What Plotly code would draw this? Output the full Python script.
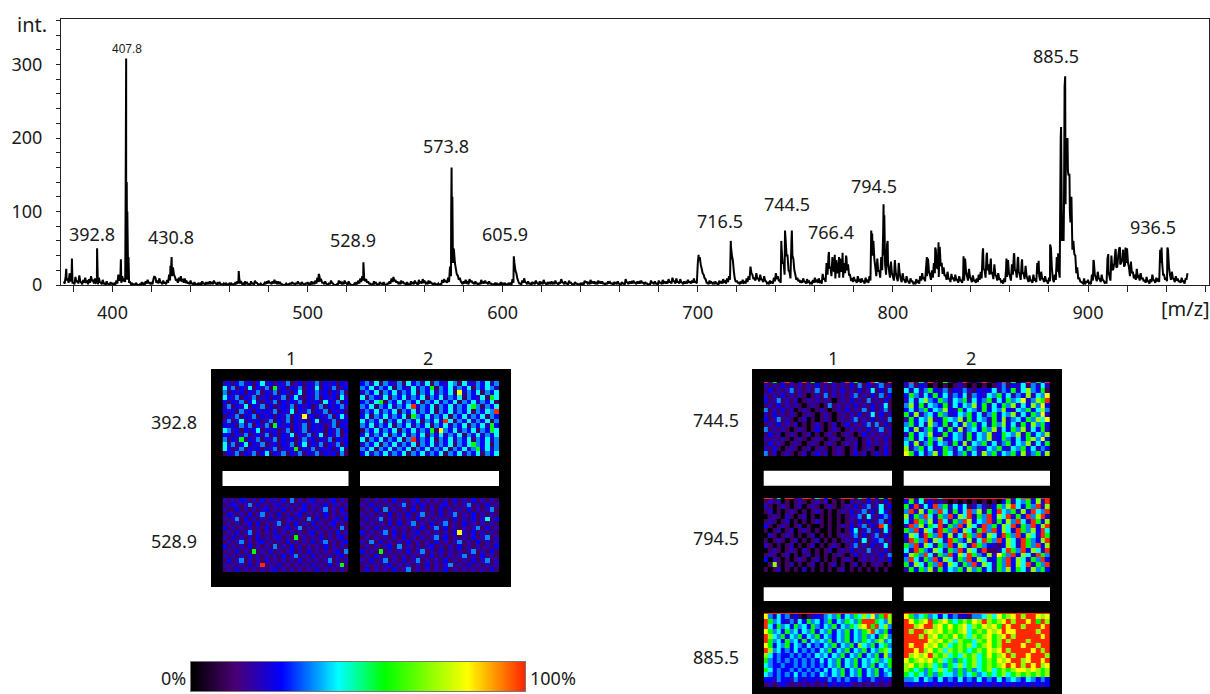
import numpy as np
import plotly.graph_objects as go

W, H = 1210, 694
TEXT_FONT = "Noto Sans"

# ---------- spectrum: intensity read at each whole m/z, starting at 375 ----------
mz_start = 375
base_intensity = [
    5,12,9,16,8,4,11,6,13,3,7,10,5,8,12,6,9,4,10,3,7,2,5,1,4,
    3,2,6,14,8,12,9,16,11,4,2,1,3,0,1,4,2,5,7,3,4,8,10,6,9,
    3,6,4,7,14,22,24,11,8,10,12,7,9,5,4,6,2,4,1,3,2,5,2,4,3,
    5,3,6,2,4,3,1,2,3,1,3,2,1,4,5,8,4,2,5,3,1,5,2,6,3,
    1,2,0,3,5,6,3,5,7,4,5,3,1,0,2,1,3,4,2,3,5,2,4,1,3,
    4,2,5,3,6,10,13,7,3,5,1,3,6,2,0,1,6,4,3,6,2,5,1,0,2,
    4,6,9,12,10,8,5,2,1,5,3,1,4,2,4,0,3,5,9,11,7,5,3,6,4,
    2,4,1,5,3,6,2,7,4,8,5,3,6,4,2,3,1,2,1,7,8,6,10,25,60,
    48,22,13,10,3,5,7,4,8,6,3,5,2,3,7,4,6,3,5,2,1,3,2,1,4,
    2,3,1,3,2,8,30,16,5,2,6,9,3,5,2,4,3,6,2,5,3,7,2,4,3,
    5,3,6,2,4,8,3,5,2,6,3,1,4,2,1,3,2,6,5,3,7,4,5,3,6,
    4,5,2,3,5,4,2,4,3,5,1,4,2,8,3,5,4,6,3,5,4,6,3,4,2,
    1,6,3,5,2,6,3,7,4,5,8,4,10,5,9,4,8,3,5,4,7,5,6,9,4,
    30,38,22,14,8,3,6,4,3,5,2,6,4,8,5,9,12,52,33,8,6,3,5,7,4,
    9,12,25,14,10,16,9,14,7,12,5,3,6,4,10,16,12,6,48,30,62,40,18,60,35,
    14,10,7,6,9,4,8,5,3,7,10,6,9,5,15,8,30,40,25,38,18,34,20,36,22,
    30,40,28,14,8,11,6,12,7,9,5,10,6,12,65,60,24,36,20,38,70,28,55,20,32,
    12,34,10,30,8,16,6,12,4,9,5,3,8,5,12,16,10,24,36,14,20,30,48,22,52,
    30,24,14,18,8,15,10,14,7,12,6,13,36,12,22,8,13,6,9,14,18,44,20,40,28,
    30,16,28,12,16,8,5,9,22,34,12,28,42,20,36,14,30,16,26,8,13,6,14,8,30,
    12,18,8,12,5,10,50,8,14,38,20,200,90,270,180,150,85,48,42,16,8,5,3,9,4,
    7,3,14,32,10,18,8,14,6,4,36,12,40,22,46,25,50,30,48,28,50,24,32,18,14,
    22,12,16,10,7,11,5,8,14,6,10,9,48,30,14,10,48,14,18,8,12,9,6,10,5,
    8,16,
]
# readings between the whole m/z values (at m/z + 0.5), starting at 375.5
half_intensity = [
    2,6,3,5,2,1,4,2,5,1,3,4,1,3,6,2,3,1,4,1,2,0,2,0,1,
    0,1,2,6,3,5,4,7,4,1,0,0,1,0,0,1,0,2,3,1,1,12,3,2,4,
    1,2,1,3,6,12,14,6,3,5,6,3,4,2,1,2,0,1,0,1,0,2,0,1,1,
    2,1,3,0,1,1,0,0,1,0,1,0,0,1,2,3,1,0,2,1,0,2,0,3,1,
    0,0,1,1,2,3,1,2,3,1,2,1,0,0,0,0,1,2,0,1,2,0,2,0,1,
    1,0,2,1,2,4,6,3,1,2,0,1,3,0,0,0,3,1,1,3,0,2,0,0,0,
    1,2,4,6,5,3,2,0,0,2,1,0,2,0,1,0,1,2,4,5,3,2,1,3,2,
    0,1,0,2,1,3,0,3,2,4,2,1,3,2,0,1,0,0,0,3,4,3,4,12,30,
    30,14,7,5,1,2,3,1,4,3,1,2,0,1,3,2,3,1,2,0,0,1,0,0,1,
    0,1,0,1,0,3,20,9,2,0,3,4,1,2,0,2,1,3,0,2,1,3,0,2,1,
    2,1,3,0,2,4,1,2,0,3,1,0,2,0,0,1,0,3,2,1,3,2,2,1,3,
    2,2,0,1,2,2,0,2,1,2,0,2,0,4,1,2,2,3,1,2,2,3,1,2,0,
    0,3,1,2,0,3,1,3,2,2,4,2,5,2,4,2,4,1,2,2,3,2,3,4,2,
    34,28,16,9,3,1,3,2,1,2,0,3,2,4,2,4,7,40,18,4,3,1,2,3,2,
    4,7,16,8,6,9,5,8,4,6,2,1,3,2,5,8,6,3,30,14,40,20,9,40,20,
    7,5,3,3,5,2,4,2,1,3,5,3,4,2,8,4,14,22,12,20,9,16,10,18,10,
    16,20,14,7,4,6,3,6,3,5,2,5,3,6,40,35,12,18,10,20,40,14,30,10,16,
    6,16,5,15,4,8,3,6,2,5,2,1,4,2,6,8,5,12,18,7,10,16,24,11,26,
    15,12,7,9,4,8,5,7,3,6,3,6,18,6,11,4,6,3,4,7,9,22,10,20,14,
    15,8,14,6,8,4,2,4,11,16,6,14,20,10,18,7,15,8,13,4,6,3,7,4,15,
    6,9,4,6,2,5,22,4,7,18,10,120,60,110,200,150,120,60,40,24,10,4,2,1,4,
    2,1,6,14,5,9,4,7,3,2,18,6,20,30,24,40,28,35,25,30,30,12,16,9,7,
    11,6,8,5,3,5,2,4,7,3,5,4,30,14,7,5,24,7,9,4,6,4,3,5,2,
    8,
]
peak_mz = [376.3, 379.2, 392.1, 404.3, 406.7, 407.0, 407.3, 407.6, 408.2, 429.7, 430.3,
           464.7, 505.7, 528.6, 573.6, 573.8, 574.2, 574.7, 605.7, 700.4, 716.9,
           742.8, 744.7, 748.2, 767.2, 770.2, 772.4, 774.2, 776.2, 788.9, 789.4,
           795.2, 795.6, 797.3, 817.4, 821.7, 823.4, 836.2, 846.2, 848.2, 850.2,
           858.2, 862.2, 864.2, 866.2, 874.7, 880.6, 884.7, 886.2, 886.7, 887.7,
           888.3, 888.7, 889.7, 890.7, 902.8, 910.4, 914.2, 916.4, 919.2, 937.7, 940.7]
peak_intensity = [22, 36, 50, 35, 100, 308, 140, 100, 38, 26, 38,
                  19, 15, 31, 100, 160, 120, 50, 39, 41, 60,
                  60, 74, 74, 45, 41, 38, 44, 37, 74, 70,
                  110, 95, 60, 38, 51, 58, 39, 50, 44, 36,
                  36, 43, 38, 35, 33, 55, 43, 215, 60, 110,
                  284, 200, 155, 100, 34, 42, 49, 51, 51, 51, 51]

peak_labels = ["392.8", "407.8", "430.8", "528.9", "573.8", "605.9", "716.5",
               "744.5", "766.4", "794.5", "885.5", "936.5"]

# ---------- intensity images: estimated levels, rows top to bottom ----------
# 1 purple, 2 indigo, 3 blue, 4 azure, 5 cyan, 6 green, 7 lime, 8 yellow, 9 red
level_percent = [0, 11, 20, 27, 36, 44, 58, 72, 83, 100]
img_392_1 = ["231342313523132412313241323132","524132513241623132413251324123","413231324132413213513242313241",
             "532413241231324135213241323152","313241352132413232413231532413","241325132413123241323124132342",
             "323142313232413251324132413231","132413241323132413282313241352","241351323124132413231351324123",
             "323142413241632313241323124132","542313235132312413241323132413","331324123241313251324135132412",
             "413261324132413231242313241323","524135132412313241351324132413","531241323132412326132413231351",
             "132413241351324132413241323141"]
img_392_2 = ["342514324153425143254153243524","435243514325243614352435143542","243514352435143524351824351435",
             "514325143524351435243514325165","342561435243514352435143524351","435143524359243514352435641435",
             "243524351435243514352435143549","351435243516435243514352435143","524351435243514352951435243514",
             "435243514352435143524351435263","143524351435243618435243514365","352435143524351435243514352435",
             "514352435149243514352435143524","243514352435143524351435643514","435143524351435243514352463524",
             "352435243514352435143524351435"]
img_528_1 = ["212132121312213141212312123121","123212413121231212131221312212","211312121231213121231212412131",
             "132121312412131212312121312122","212413121213121231214131212313","121212313121241213121312123121",
             "312121212131212312412131212141","121312412121312121212312121312","213121213121231216121213121231",
             "121241212312121312121312412123","312121312121412131212121312121","121312161213121231213121212314",
             "212121312121213124121312121231","131241212131212121312121241212","212121312912131212121312131261",
             "121312121212312121212131212121"]
img_528_2 = ["121212131212312121213121312121","213121212412131212312124121312","121314121213121213121213121241",
             "212121312131241213124121312121","131241212121312121213121312513","212121313124121312412131212121",
             "121312121212131241312121241312","312124131212312121213821312121","121212121312121241312121312412",
             "214131212131212131212412131212","121212314121212312121312121213","312161212131241213121212412131",
             "121312121212121312121241213121","213124121312412121312121312412","121212312121213121241213121212",
             "131212131241212121312121212131"]
img_744_1 = ["916029103916029510392610395109","212131212121312121213141312412","131212412121412121312131251314",
             "212131212101214121212412131413","312412120121212101213121412131","121312121012101412121312131251",
             "412131201210121012131214131241","213121210121012101212131251312","312412101201012101212412131214",
             "121312120101210120131212414131","412121012101310121012121312412","131201210120101210121013121212",
             "212121012101210121012101212131","131210121012101210121201312121","213101210120121012101201210131",
             "412012101201312012101312013131"]
img_744_2 = ["391629106102910291039160391639","241320101012101010124132514252","525246324132421323524362574361",
             "364253635243514325463524372548","252574364254625346253645824769","473625436253547362536472537483",
             "352463547326354263547325463574","637245364235463524635472536482",
             "263547236547263542637245364758","463527436253746352647352637463","537246352637245364725364725362",
             "263547326354263547236547263547","462536472354263547236425367483","537246354263725463524635472536",
             "724635236425364235463254635243","863524736524635274635463724637"]
img_794_1 = ["991609912991693901999169391609","121201012101212010102121312131","210121012012101210121312412513",
             "120101210101210101213124131531","012102101201010101012241521342","121012010101210101012131312413",
             "310121012010010101213124131951","101201201210100101013512413152","021012101012010101212413124131",
             "101210120101201010121315123412","210101201012010121012412131251","012101210210101201213121412131",
             "121012010120101012101312121314","302101012101201010121012121213","017101201012010120101201012101",
             "101201010201010101201010101010"]
img_794_2 = ["991699969999999999999916991699","362513121010101010103625463729","639253946253512421364795364927",
             "492736495263594726395462739549","736495264937592649375926394792","529647395264973549263749529637",
             "294736592649375294637592649379","649375296493752694937529647395","375296493725964937529649375296",
             "296493752964372596493752964379","649375264937529643213752964937","529643752649375291125964937529",
             "376495264937596437286493752964","495264937526493752364937526493","637526493752649375264937592649",
             "263647263546374635264736527463"]
img_885_1 = ["999999999999999999999999999999","842534131012324546354657584697","964532425364534635465469996547",
             "953645364536435463546578969574","864536453546354635463546795463","975463546354635435463546453674",
             "964536453635454635463546546745","863546354353435463546375463564","974534353434354635463546354675",
             "753433434343545354635463546374","643434343434353546354635456456","543343343434343546354635463546",
             "653433434343435354635463546354","543434353434354354635463546345","332433243233232434343343243232",
             "121232121212121323232121212121"]
img_885_2 = ["999999999999999999999999999999","864564535342314457586789799878","986789678656768797678979989697",
             "997899786867857687869899799989","979978786767856768789889999799","999797867686757678678979999989",
             "999998786757665768679799979999","989987867567675678679999899799","998978675767656768789799998979",
             "978789767565767568678979989997","867878675646567567687899789989","786767564657567567678989798978",
             "765646575646464567567678878767","656546465546456456567567676767","445354353435343534353454354343",
             "232323232323232323232323232323"]

img_colorscale = [[0.0, "#000000"], [0.13, "#4b0075"], [0.27, "#0000ff"], [0.44, "#00ffff"],
                  [0.58, "#00ff00"], [0.83, "#ffff00"], [1.0, "#ff2800"]]
colorbar_percent = list(range(0, 101))
color_labels = ["0%", "100%"]
column_labels = ["1", "2"]
row_labels_left = ["392.8", "528.9"]
row_labels_right = ["744.5", "794.5", "885.5"]


def fx(px):
    return px / W


def fy(py):
    return 1 - py / H


# ---------- assemble spectrum ----------
whole_mz = np.arange(mz_start, mz_start + len(base_intensity))
half_mz = whole_mz[:len(half_intensity)] + 0.5
mz = np.concatenate([whole_mz, half_mz, peak_mz])
inten = np.concatenate([base_intensity, half_intensity, peak_intensity])
order = np.argsort(mz)

fig = go.Figure()
fig.add_trace(go.Scatter(x=mz[order].tolist(), y=inten[order].tolist(), mode="lines",
                         line=dict(color="#000000", width=2, simplify=False),
                         xaxis="x", yaxis="y", showlegend=False, hoverinfo="skip"))

PX_PER_MZ = 1.951
MZ_AT_0 = 400 - 112.5 / PX_PER_MZ
layout = dict(
    template="none",
    width=W, height=H, margin=dict(l=0, r=0, t=0, b=0, pad=0), autosize=False,
    paper_bgcolor="#ffffff", plot_bgcolor="rgba(0,0,0,0)",
    font=dict(family=TEXT_FONT, size=18, color="#1a1a1a"),
    xaxis=dict(domain=[fx(61), fx(1209)], range=[61 / PX_PER_MZ + MZ_AT_0, 1209 / PX_PER_MZ + MZ_AT_0],
               anchor="y", dtick=100, tick0=0, ticks="outside", ticklen=6, tickcolor="#222",
               showgrid=False, zeroline=False, showline=True, linecolor="#222", linewidth=1,
               mirror=True, ticklabelstandoff=5, automargin=False,
               minor=dict(dtick=20, tick0=0, ticks="outside", ticklen=6, tickcolor="#222", showgrid=False)),
    yaxis=dict(domain=[fy(285), fy(19)], range=[0, 266 / 0.735], anchor="x", dtick=100, tick0=0,
               ticks="outside", ticklen=4, tickcolor="#222", showgrid=False, zeroline=False,
               showline=True, linecolor="#222", linewidth=1, mirror=True, ticklabelstandoff=10, automargin=False,
               minor=dict(dtick=20, tick0=0, ticks="outside", ticklen=4, tickcolor="#222", showgrid=False)),
)

# ---------- image panels ----------
panels = [
    (img_392_1, 222.5, 348.5, 381, 456, False), (img_392_2, 360, 499, 381, 456, False),
    (img_528_1, 222.5, 348.5, 498, 572, False), (img_528_2, 360, 499, 498, 572, False),
    (img_744_1, 763.7, 892, 382, 456, True), (img_744_2, 903.7, 1050, 382, 456, True),
    (img_794_1, 763.7, 892, 498, 572, True), (img_794_2, 903.7, 1050, 498, 572, True),
    (img_885_1, 763.7, 892, 613, 687, True), (img_885_2, 903.7, 1050, 613, 687, True),
]
hidden = dict(visible=False, showgrid=False, zeroline=False, automargin=False)
for i, (rows, x0, x1, y0, y1, thin_top) in enumerate(panels):
    n = i + 2
    ncols = min(len(r) for r in rows)
    z = [[level_percent[int(c)] for c in r[:ncols]] for r in rows]
    nrows = len(rows)
    edges = ([0.0] + [0.3 + k for k in range(nrows)]) if thin_top else list(range(nrows + 1))
    fig.add_trace(go.Heatmap(z=z, y=edges, colorscale=img_colorscale, zmin=0, zmax=100, showscale=False,
                             xaxis=f"x{n}", yaxis=f"y{n}", hoverinfo="skip"))
    layout[f"xaxis{n}"] = dict(domain=[fx(x0), fx(x1)], anchor=f"y{n}", **hidden)
    layout[f"yaxis{n}"] = dict(domain=[fy(y1), fy(y0)], anchor=f"x{n}", autorange="reversed", **hidden)

# ---------- colour bar ----------
n = len(panels) + 2
fig.add_trace(go.Heatmap(z=[colorbar_percent], x=colorbar_percent, colorscale=img_colorscale, zmin=0, zmax=100,
                         showscale=False, zsmooth="best", xaxis=f"x{n}", yaxis=f"y{n}", hoverinfo="skip"))
layout[f"xaxis{n}"] = dict(domain=[fx(190.5), fx(525)], anchor=f"y{n}", showticklabels=False, ticks="", automargin=False,
                           showgrid=False, zeroline=False, showline=True, linecolor="#777", linewidth=1, mirror=True)
layout[f"yaxis{n}"] = dict(domain=[fy(691), fy(662)], anchor=f"x{n}", showticklabels=False, ticks="", automargin=False,
                           showgrid=False, zeroline=False, showline=True, linecolor="#777", linewidth=1, mirror=True)

# ---------- frames and white strips ----------
shapes = []


def rect(x0, x1, y0, y1, color):
    shapes.append(dict(type="rect", xref="paper", yref="paper", x0=fx(x0), x1=fx(x1), y0=fy(y1), y1=fy(y0),
                       fillcolor=color, line=dict(width=0), layer="below"))


rect(211, 511, 369, 587, "#000000")
rect(752, 1062, 369, 694, "#000000")
for (x0, x1) in [(222.5, 348.5), (360, 499)]:
    rect(x0, x1, 471, 486, "#ffffff")
for (x0, x1) in [(763.7, 892), (903.7, 1050)]:
    rect(x0, x1, 470.7, 485.7, "#ffffff")
    rect(x0, x1, 587.3, 601, "#ffffff")
layout["shapes"] = shapes

# ---------- text ----------
annotations = []


def text(s, px, py, size=18, family=TEXT_FONT):
    annotations.append(dict(text=s, x=fx(px), y=fy(py), xref="paper", yref="paper", showarrow=False,
                            xanchor="center", yanchor="middle", font=dict(size=size, family=family, color="#1a1a1a")))


label_px = [(92, 234), (127, 49), (170.5, 237), (353, 240), (446, 146), (504.5, 234), (720, 221),
            (787, 204), (831, 232), (873.5, 186), (1056, 56), (1153, 227)]
for s, (px, py) in zip(peak_labels, label_px):
    if s == "407.8":
        text(s, px, py, 12, "Liberation Sans")
    else:
        text(s, px, py)
text("int.", 32, 24, 20)
text("[m/z]", 1185, 309, 20)
for s, px in zip(column_labels * 2, [291, 427.5, 832.5, 971]):
    text(s, px, 358)
for s, py in zip(row_labels_left, [422, 541]):
    text(s, 174, py)
for s, py in zip(row_labels_right, [420, 538, 657]):
    text(s, 716, py)
text(color_labels[0], 173, 678)
text(color_labels[1], 553, 678)
layout["annotations"] = annotations

fig.update_layout(**layout)
fig.write_html("out.html", config=dict(displayModeBar=False),
               post_script="document.body.style.margin='0';document.body.style.overflow='hidden';")
